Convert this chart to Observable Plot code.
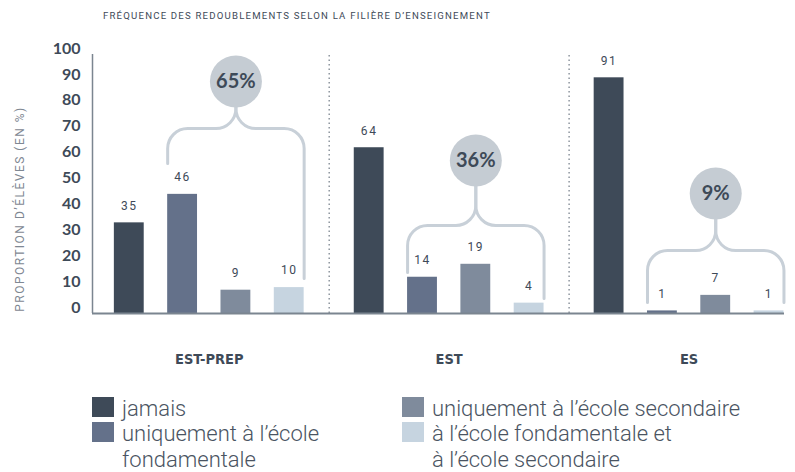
<!DOCTYPE html>
<html>
<head>
<meta charset="utf-8">
<script src="https://cdn.jsdelivr.net/npm/d3@7"></script>
<script src="https://cdn.jsdelivr.net/npm/@observablehq/plot@0.6"></script>
<style>
  body { margin: 0; background: #fff; }
  #wrap { position: relative; width: 795px; height: 472px; overflow: hidden; font-family: Roboto, sans-serif; }
  #title { position: absolute; left: 103px; top: 10px; font-size: 9.6px; letter-spacing: 1.2px; color: #3e4a58; white-space: nowrap; }
  #chart { position: absolute; left: 0; top: 30px; }
  .leg { position: absolute; display: flex; align-items: flex-start; }
  .sw { width: 22px; height: 20px; flex: none; margin-right: 8px; }
  .lt { font-size: 22px; font-weight: 300; line-height: 26px; color: #4a5462; white-space: pre; margin-top: -1px; }
</style>
</head>
<body>
<div id="wrap">
  <div id="title"></div>
  <div id="chart"></div>
  <div id="legend"></div>
</div>
<script>
// ---- data ----
const chartTitle = "FRÉQUENCE DES REDOUBLEMENTS SELON LA FILIÈRE D’ENSEIGNEMENT";
const yTitle = "PROPORTION D’ÉLÈVES (EN %)";
const groups = ["EST-PREP", "EST", "ES"];
const seriesNames = [
  "jamais",
  "uniquement à l’école fondamentale",
  "uniquement à l’école secondaire",
  "à l’école fondamentale et à l’école secondaire"
];
const legendLabels = [
  "jamais",
  "uniquement à l’école\nfondamentale",
  "uniquement à l’école secondaire",
  "à l’école fondamentale et\nà l’école secondaire"
];
const valuesEstPrep = [35, 46, 9, 10];
const valuesEst = [64, 14, 19, 4];
const valuesEs = [91, 1, 7, 1];
const repeaterTotals = ["65%", "36%", "9%"];
const yTicks = [0, 10, 20, 30, 40, 50, 60, 70, 80, 90, 100];

// ---- styles / layout ----
const seriesColors = ["#3e4a58", "#64718a", "#7f8b9c", "#c6d4e0"];
const dark = "#3e4a58";
const GROUP_STEP = 4.5;   // group spacing in bar steps
const HALF = 0.28;        // half bar width in bar steps
const braceLayout = {     // annotation positions, in % units
  bubble:   [89.6, 59.1, 46.3],
  shoulder: [71.4, 34.0, 24.3],
  endLeft:  [57.9, 15.8, 4.2],
  endRight: [13.5, 5.8, 4.2]
};

const groupValues = [valuesEstPrep, valuesEst, valuesEs];
const bars = [];
groups.forEach((g, gi) => {
  groupValues[gi].forEach((v, si) => {
    bars.push({group: g, series: seriesNames[si], value: v, pos: gi * GROUP_STEP + si});
  });
});
const groupCenters = groups.map((g, gi) => gi * GROUP_STEP + 1.5);
const separators = groups.slice(1).map((g, i) => (i + 1) * GROUP_STEP - (GROUP_STEP - 3) / 2);

const bubbles = groups.map((g, gi) => ({
  group: g, x: gi * GROUP_STEP + 2, y: braceLayout.bubble[gi], label: repeaterTotals[gi]
}));
const braces = [];
groups.forEach((g, gi) => {
  const xm = gi * GROUP_STEP + 2;
  const xL = gi * GROUP_STEP + 1 - HALF;
  const xR = gi * GROUP_STEP + 3 + HALF;
  const sh = braceLayout.shoulder[gi], top = braceLayout.bubble[gi];
  [[xL, braceLayout.endLeft[gi], "L"], [xR, braceLayout.endRight[gi], "R"]].forEach(([xe, ye, side]) => {
    const z = g + side;
    braces.push({z, x: xm, y: top}, {z, x: xm, y: sh}, {z, x: xe, y: sh}, {z, x: xe, y: ye});
  });
});

// rounded-corner polyline curve (pixel radius)
function roundedCurve(radius) {
  return function(context) {
    let pts = [];
    return {
      areaStart() {}, areaEnd() {},
      lineStart() { pts = []; },
      lineEnd() {
        if (!pts.length) return;
        context.moveTo(pts[0][0], pts[0][1]);
        for (let i = 1; i < pts.length - 1; ++i) {
          context.arcTo(pts[i][0], pts[i][1], pts[i + 1][0], pts[i + 1][1], radius);
        }
        const l = pts[pts.length - 1];
        context.lineTo(l[0], l[1]);
      },
      point(x, y) { pts.push([+x, +y]); }
    };
  };
}

const xDomain = [-0.69, 12.29];

const plot = Plot.plot({
  width: 795,
  height: 350,
  marginTop: 24,
  marginBottom: 67,
  marginLeft: 92,
  marginRight: 11,
  style: {fontFamily: "Roboto, sans-serif", background: "transparent", overflow: "visible"},
  x: {domain: xDomain},
  y: {domain: [0, 100]},
  color: {domain: seriesNames, range: seriesColors},
  marks: [
    Plot.ruleX(separators, {x: d => d, y1: 0, y2: 100, stroke: "#8d959e", strokeWidth: 1.5, strokeDasharray: "1.5,3"}),
    Plot.rect(bars, {x1: d => d.pos - HALF, x2: d => d.pos + HALF, y1: 0, y2: "value", fill: "series"}),
    Plot.text(bars, {x: "pos", y: "value", text: d => String(d.value), dy: -17, fontSize: 12, fill: dark}),
    Plot.line(braces, {x: "x", y: "y", z: "z", stroke: "#c8d0d8", strokeWidth: 3, curve: roundedCurve(20)}),
    Plot.dot(bubbles, {x: "x", y: "y", r: 26, fill: "#c5ccd3"}),
    Plot.text(bubbles, {x: "x", y: "y", text: "label", fontSize: 20, fontWeight: "bold", fontFamily: "Lato, sans-serif", fill: dark}),
    Plot.ruleX([xDomain[0]], {y1: 0, y2: 100, stroke: "#7b8590", strokeWidth: 1.5}),
    Plot.ruleY([0], {stroke: "#7b8590", strokeWidth: 2}),
    Plot.axisY(yTicks, {tickSize: 0, tickPadding: 12, fontSize: 16, fontWeight: "bold", fontFamily: "Lato, sans-serif", fill: dark, dy: -6, label: null}),
    Plot.axisX(groupCenters, {tickSize: 0, tickPadding: 40, tickFormat: d => groups[groupCenters.indexOf(d)], fontSize: 14.5, fontWeight: "bold", fontFamily: "'Liberation Sans Narrow', 'DejaVu Sans Condensed', sans-serif", fill: dark, label: null}),
    Plot.text([yTitle], {frameAnchor: "left", dx: -72, dy: 25, rotate: -90, textAnchor: "middle", fontSize: 12, fill: "#7f8893"})
  ]
});
document.getElementById("chart").appendChild(plot);
document.getElementById("title").textContent = chartTitle;

// letter-spacing on value labels and the y title
const valueTexts = new Set(bars.map(d => String(d.value)));
d3.select(plot).selectAll("text").each(function() {
  const t = this.textContent;
  if (t === yTitle) this.setAttribute("letter-spacing", "1.5px");
  else if (this.parentNode && this.parentNode.getAttribute("aria-label") === "text" && valueTexts.has(t)) {
    this.setAttribute("letter-spacing", "1.6px");
  }
});

// legend
const legendPos = [[92, 397], [92, 422], [402, 397], [402, 422]];
const legend = document.getElementById("legend");
seriesNames.forEach((s, i) => {
  const item = document.createElement("div");
  item.className = "leg";
  item.style.left = legendPos[i][0] + "px";
  item.style.top = legendPos[i][1] + "px";
  const sw = document.createElement("div");
  sw.className = "sw";
  sw.style.background = seriesColors[i];
  const t = document.createElement("div");
  t.className = "lt";
  t.textContent = legendLabels[i];
  item.appendChild(sw);
  item.appendChild(t);
  legend.appendChild(item);
});
</script>
</body>
</html>
